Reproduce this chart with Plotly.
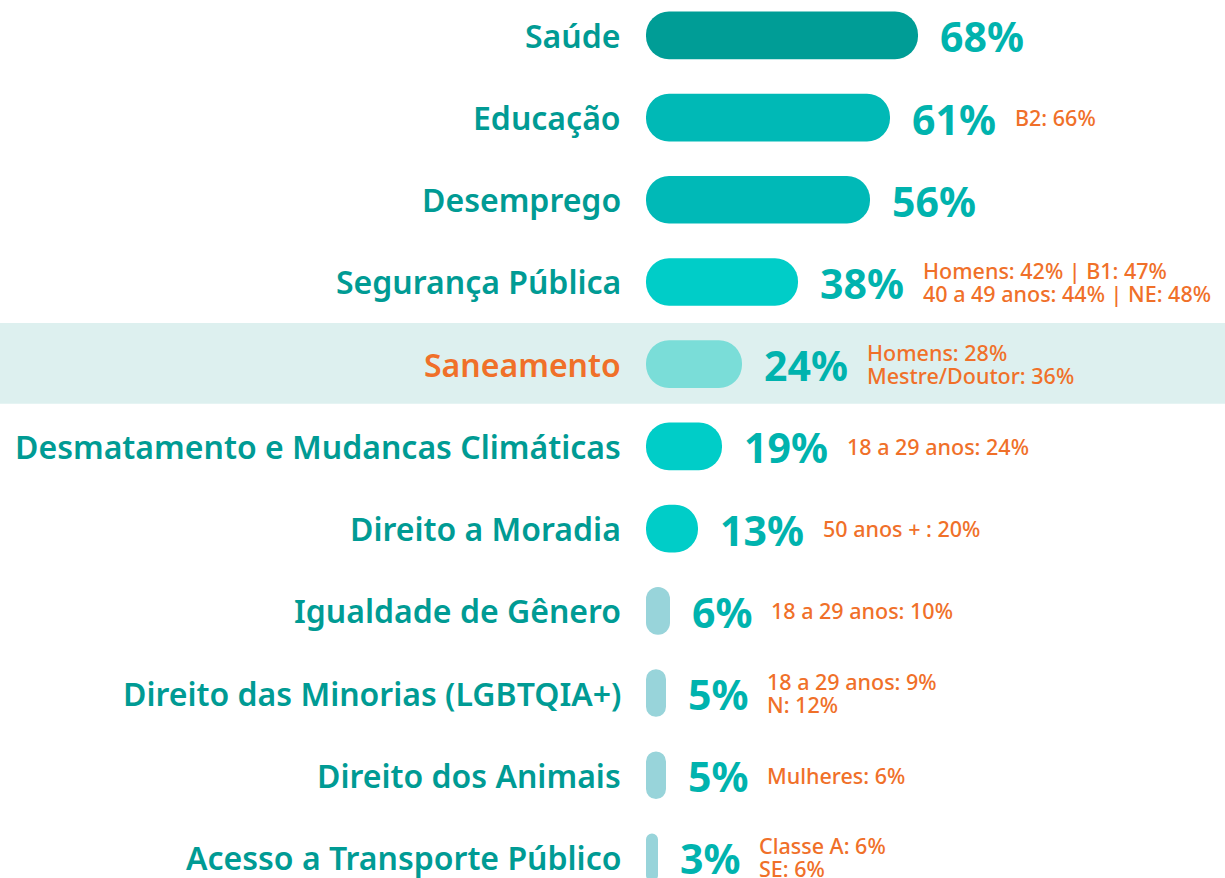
import plotly.graph_objects as go

categories = [
    "Saúde", "Educação", "Desemprego", "Segurança Pública", "Saneamento",
    "Desmatamento e Mudancas Climáticas", "Direito a Moradia", "Igualdade de Gênero",
    "Direito das Minorias (LGBTQIA+)", "Direito dos Animais", "Acesso a Transporte Público",
]
values = [68, 61, 56, 38, 24, 19, 13, 6, 5, 5, 3]
details = [
    "",
    "B2: 66%",
    "",
    "Homens: 42% | B1: 47%\n40 a 49 anos: 44% | NE: 48%",
    "Homens: 28%\nMestre/Doutor: 36%",
    "18 a 29 anos: 24%",
    "50 anos + : 20%",
    "18 a 29 anos: 10%",
    "18 a 29 anos: 9%\nN: 12%",
    "Mulheres: 6%",
    "Classe A: 6%\nSE: 6%",
]
bar_colors = [
    "#009D96", "#00B9B6", "#00B9B7", "#00CDC8", "#7ADDD8", "#00CDC8",
    "#00CDC8", "#98D4DA", "#98D4DA", "#98D4DA", "#98D4DA",
]
highlight = "Saneamento"

TEAL_TEXT = "#009B94"
PCT_COLOR = "#00B3AE"
ORANGE = "#F07029"
FONT = "Noto Sans"

fig = go.Figure()
fig.add_trace(go.Bar(
    y=categories, x=values, base=[0] * len(values), orientation="h",
    marker=dict(color=bar_colors, line=dict(width=0)),
    width=0.58, hoverinfo="skip",
))

annotations = []
for i, (cat, val, det) in enumerate(zip(categories, values, details)):
    annotations.append(dict(
        x=0, y=cat, xref="x", yref="y", text=cat, showarrow=False,
        xanchor="right", yanchor="middle", xshift=-23,
        font=dict(family=FONT, size=32, weight=600,
                  color=ORANGE if cat == highlight else TEAL_TEXT),
    ))
    pct = f"{val}%"
    annotations.append(dict(
        x=val, y=cat, xref="x", yref="y", text=pct, showarrow=False,
        xanchor="left", yanchor="middle", xshift=20, yshift=-1,
        font=dict(family=FONT, size=41, weight=700, color=PCT_COLOR),
    ))
    if det:
        lines = det.split("\n")
        w_est = 24.5 * len(str(val)) + 37
        n = len(lines)
        for j, line in enumerate(lines):
            off = (j - (n - 1) / 2) * 23
            annotations.append(dict(
                x=val, y=cat, xref="x", yref="y", text=line, showarrow=False,
                xanchor="left", yanchor="middle", xshift=20 + w_est + 17,
                yshift=-off,
                font=dict(family=FONT, size=21.5, weight=500, color=ORANGE),
            ))

hi_idx = categories.index(highlight)
fig.add_shape(
    type="rect", xref="paper", yref="y", x0=0, x1=1,
    y0=hi_idx - 0.5, y1=hi_idx + 0.48,
    fillcolor="#DDF0EF", line=dict(width=0), layer="below",
)

fig.update_layout(
    width=1225, height=878,
    margin=dict(l=0, r=0, t=0, b=0),
    paper_bgcolor="white", plot_bgcolor="white",
    showlegend=False,
    barcornerradius=24,
    annotations=annotations,
    xaxis=dict(range=[-161.5, 144.75], visible=False, fixedrange=True),
    yaxis=dict(type="category", categoryorder="array", categoryarray=categories,
               range=[10.25, -0.43], visible=False, fixedrange=True),
)

fig.write_html(
    "out.html",
    config={"displayModeBar": False},
    post_script="document.body.style.margin='0';document.body.style.overflow='hidden';",
)
